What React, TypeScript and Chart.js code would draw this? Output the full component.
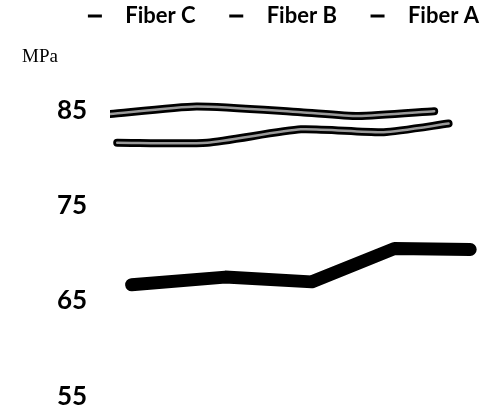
import React, { useEffect, useRef } from "react";
import { Chart, registerables } from "chart.js";

Chart.register(...registerables);

const seriesNames = ["Fiber C", "Fiber B", "Fiber A"];
const fiberCX = [0, 2.4, 5.3, 6.9, 9.0];
const fiberCY = [84.6, 85.4, 84.8, 84.4, 84.9];
const fiberBX = [0.2, 2.7, 5.3, 7.6, 9.4];
const fiberBY = [81.6, 81.6, 83.0, 82.7, 83.6];
const fiberAX = [0.6, 3.2, 5.6, 7.9, 10];
const fiberAY = [66.7, 67.5, 67.0, 70.5, 70.4];
const yTicks = [55, 65, 75, 85];
const unitLabel = "MPa";

const pts = (xs: number[], ys: number[]) => xs.map((x, i) => ({ x, y: ys[i] }));

const mpaPlugin = {
  id: "mpaLabel",
  afterDraw(chart: any) {
    const ctx = chart.ctx;
    ctx.save();
    ctx.font = '19px "Liberation Serif"';
    ctx.fillStyle = "#000";
    ctx.textBaseline = "alphabetic";
    ctx.textAlign = "left";
    ctx.fillText(unitLabel, 22, 62);
    ctx.restore();
  },
};

const line = (label: string, xs: number[], ys: number[], color: string, width: number, tension: number) => ({
  label,
  data: pts(xs, ys),
  borderColor: color,
  backgroundColor: color,
  borderWidth: width,
  tension,
  pointRadius: 0,
  borderCapStyle: "round" as const,
  borderJoinStyle: "round" as const,
});

export default function App() {
  const ref = useRef<HTMLCanvasElement | null>(null);
  useEffect(() => {
    if (!ref.current) return;
    const chart = new Chart(ref.current, {
      type: "line",
      data: {
        datasets: [
          line("innerC", fiberCX, fiberCY, "#9a9a9a", 2.5, 0.2),
          line("innerB", fiberBX, fiberBY, "#9a9a9a", 2.5, 0.2),
          line(seriesNames[0], fiberCX, fiberCY, "#000", 8, 0.2),
          line(seriesNames[1], fiberBX, fiberBY, "#000", 8, 0.2),
          line(seriesNames[2], fiberAX, fiberAY, "#000", 13, 0),
        ],
      },
      options: {
        animation: false,
        responsive: false,
        maintainAspectRatio: false,
        layout: { padding: { left: 57, right: 0, top: 3, bottom: 0 } },
        plugins: {
          tooltip: { enabled: false },
          legend: {
            position: "top",
            align: "end",
            labels: {
              color: "#000",
              font: { family: "Lato", weight: "bold", size: 22 },
              boxWidth: 14,
              boxHeight: 3,
              padding: 2,
              filter: (item: any) => seriesNames.includes(item.text.trim()),
              generateLabels: (chart: any) =>
                Chart.defaults.plugins.legend.labels.generateLabels(chart).map((l: any) => ({
                  ...l,
                  text: seriesNames.includes(l.text)
                    ? "\u2002\u200A" + l.text + (l.text === seriesNames[seriesNames.length - 1] ? "" : "\u2003\u2002\u2009\u200A")
                    : l.text,
                  lineWidth: 0,
                  fillStyle: "#000",
                  strokeStyle: "#000",
                })),
            },
          },
        },
        scales: {
          x: { type: "linear", min: 0, max: 10.3, display: false },
          y: {
            min: 55,
            max: 92.68,
            afterBuildTicks: (axis: any) => {
              axis.ticks = yTicks.map((v) => ({ value: v }));
            },
            afterFit: (axis: any) => {
              axis.width = 53;
            },
            grid: { display: false, drawTicks: false },
            border: { display: false },
            ticks: {
              color: "#000",
              padding: 0,
              crossAlign: "far",
              font: { family: "Lato", weight: "bold", size: 26, lineHeight: 0.9 },
            },
          },
        },
      },
      plugins: [mpaPlugin],
    });
    return () => chart.destroy();
  }, []);
  return (
    <div style={{ position: "fixed", left: 0, top: 0, width: 481, height: 408, background: "#fff" }}>
      <canvas ref={ref} width={481} height={408} style={{ width: 481, height: 408 }} />
    </div>
  );
}
